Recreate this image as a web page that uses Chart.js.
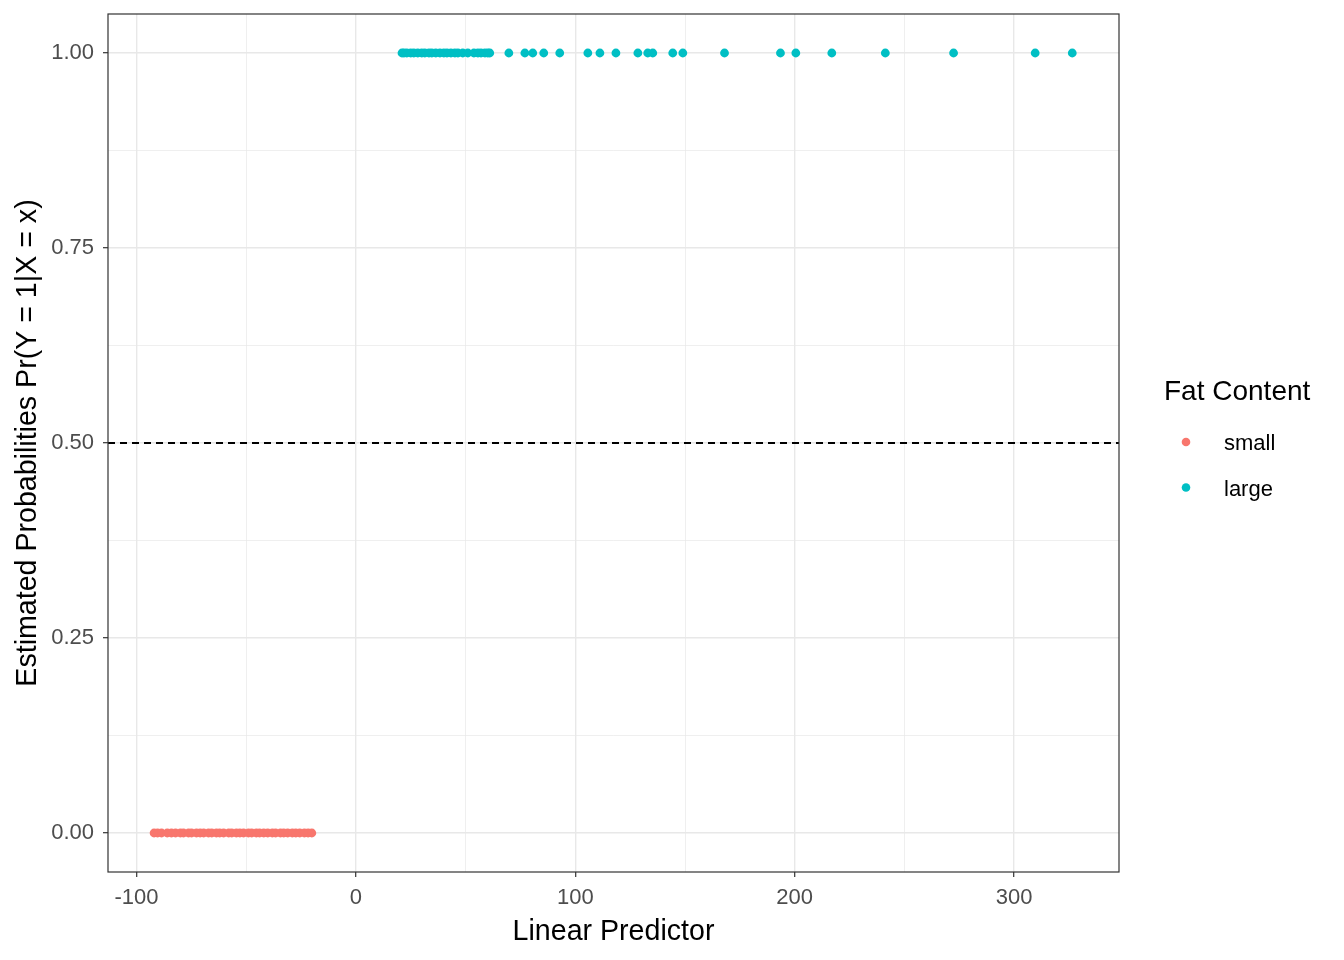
<!DOCTYPE html>
<html>
<head>
<meta charset="utf-8">
<script src="https://cdn.jsdelivr.net/npm/chart.js@4.4.1/dist/chart.umd.min.js"></script>
<style>
  html, body { margin: 0; padding: 0; background: #ffffff; }
  #wrap { width: 1344px; height: 960px; }
</style>
</head>
<body>
<div id="wrap"><canvas id="chart" width="1344" height="960"></canvas></div>
<script>
// ---- data ----
const groupLabels = ["small", "large"];
const groupColors = ["#F8766D", "#00BFC4"];

// linear predictor values, fat content = small (all estimated prob 0)
const smallX = [
  -92.0, -90.4, -88.6, -86.0, -84.1, -82.2, -80.0, -78.6, -76.3, -74.9,
  -72.7, -71.0, -69.4, -67.2, -65.7, -63.6, -62.1, -60.3, -58.0, -56.6,
  -54.5, -52.9, -51.2, -49.0, -47.5, -45.4, -43.9, -42.0, -40.2, -38.1,
  -36.6, -34.4, -32.9, -31.1, -29.0, -27.4, -25.6, -23.5, -21.8, -20.1
];
const smallProb = 0;

// linear predictor values, fat content = large (all estimated prob 1)
const largeX = [
  21.0, 21.9, 23.2, 25.0, 26.4, 28.2, 30.0, 31.4, 33.3, 34.6,
  36.4, 38.3, 40.1, 41.5, 43.3, 45.1, 46.5, 48.7, 51.0, 53.8,
  55.6, 57.0, 58.8, 60.1, 61.0,
  69.7, 77.0, 80.6, 85.6, 92.9, 105.7, 111.2, 118.5, 128.5, 133.0,
  135.3, 144.4, 149.0, 168.0, 193.5, 200.5, 216.9, 241.3, 272.4, 309.6, 326.5
];
const largeProb = 1;

const cutoff = 0.5;

// axis ranges and ticks
const xMin = -113.0, xMax = 347.8;
const yMin = -0.05, yMax = 1.05;
const xTicks = [-100, -50, 0, 50, 100, 150, 200, 250, 300];
const xTickLabels = ["-100", "0", "100", "200", "300"];
const yTicks = [0, 0.125, 0.25, 0.375, 0.5, 0.625, 0.75, 0.875, 1];
const yTickLabels = ["0.00", "0.25", "0.50", "0.75", "1.00"];

const FONT = "'Liberation Sans', Arial, sans-serif";
const GRID = "#e8e8e8";

const isMajorX = v => xTickLabels.includes(String(v));
const isMajorY = v => yTickLabels.includes(v.toFixed(2));

// panel border + legend (ggplot style)
const ggExtras = {
  id: "ggExtras",
  afterDraw(chart) {
    const { ctx, chartArea: a } = chart;
    ctx.save();
    ctx.strokeStyle = "#333333";
    ctx.lineWidth = 1.2;
    ctx.strokeRect(a.left, a.top, a.right - a.left, a.bottom - a.top);

    ctx.fillStyle = "#000000";
    ctx.textBaseline = "middle";
    ctx.textAlign = "left";
    ctx.font = "28px " + FONT;
    ctx.fillText("Fat Content", 1164, 392);

    ctx.font = "22px " + FONT;
    groupLabels.forEach((lab, i) => {
      const y = 443 + i * 45.5;
      ctx.beginPath();
      ctx.fillStyle = groupColors[i];
      ctx.arc(1186, y - 1, 4.3, 0, Math.PI * 2);
      ctx.fill();
      ctx.fillStyle = "#000000";
      ctx.fillText(lab, 1224, y + 1);
    });
    ctx.restore();
  }
};

const ctx = document.getElementById("chart").getContext("2d");

new Chart(ctx, {
  type: "scatter",
  data: {
    datasets: [
      {
        label: groupLabels[0],
        data: smallX.map(x => ({ x, y: smallProb })),
        backgroundColor: groupColors[0],
        borderWidth: 0,
        pointRadius: 4.4
      },
      {
        label: groupLabels[1],
        data: largeX.map(x => ({ x, y: largeProb })),
        backgroundColor: groupColors[1],
        borderWidth: 0,
        pointRadius: 4.4
      },
      {
        type: "line",
        label: "cutoff",
        data: [{ x: xMin, y: cutoff }, { x: xMax, y: cutoff }],
        borderColor: "#000000",
        borderWidth: 1.8,
        borderDash: [7, 5],
        pointRadius: 0
      }
    ]
  },
  options: {
    responsive: false,
    animation: false,
    layout: { padding: { top: 14, right: 225, left: 0, bottom: 0 } },
    plugins: {
      legend: { display: false },
      tooltip: { enabled: false }
    },
    scales: {
      x: {
        type: "linear",
        min: xMin,
        max: xMax,
        afterBuildTicks: s => { s.ticks = xTicks.map(v => ({ value: v })); },
        afterFit: s => { s.height = 88; s.paddingLeft = 0; s.paddingRight = 0; },
        ticks: {
          autoSkip: false,
          maxRotation: 0,
          padding: 8,
          color: "#4d4d4d",
          font: { family: FONT, size: 22 },
          callback: v => isMajorX(v) ? String(v) : ""
        },
        grid: {
          color: GRID,
          lineWidth: c => isMajorX(c.tick.value) ? 1.4 : 0.7,
          tickLength: 5,
          tickColor: c => isMajorX(c.tick.value) ? "#333333" : "rgba(0,0,0,0)",
          tickWidth: 1.2
        },
        border: { display: false },
        title: {
          display: true,
          text: "Linear Predictor",
          color: "#000000",
          font: { family: FONT, size: 28.6 },
          padding: { top: 0, bottom: 11 }
        }
      },
      y: {
        type: "linear",
        min: yMin,
        max: yMax,
        afterBuildTicks: s => { s.ticks = yTicks.map(v => ({ value: v })); },
        afterFit: s => { s.width = 108; s.paddingTop = 0; s.paddingBottom = 0; },
        ticks: {
          autoSkip: false,
          padding: 9,
          color: "#4d4d4d",
          font: { family: FONT, size: 22 },
          callback: v => isMajorY(v) ? v.toFixed(2) : ""
        },
        grid: {
          color: GRID,
          lineWidth: c => isMajorY(c.tick.value) ? 1.4 : 0.7,
          tickLength: 5,
          tickColor: c => isMajorY(c.tick.value) ? "#333333" : "rgba(0,0,0,0)",
          tickWidth: 1.2
        },
        border: { display: false },
        title: {
          display: true,
          text: "Estimated Probabilities Pr(Y = 1|X = x)",
          color: "#000000",
          font: { family: FONT, size: 28.6 },
          padding: { top: 11, bottom: 0 }
        }
      }
    }
  },
  plugins: [ggExtras]
});
</script>
</body>
</html>
